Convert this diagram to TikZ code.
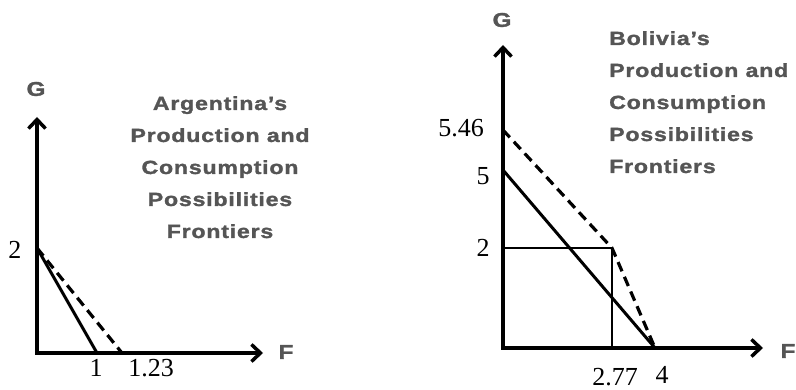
\documentclass[tikz,border=0pt]{standalone}
\usepackage{fontspec}
\setmainfont{Liberation Serif}
\newfontfamily\titlefont[FakeStretch=1.22,FakeBold=1.5,LetterSpace=4]{Liberation Sans Bold}
\usetikzlibrary{arrows.meta}
\definecolor{titlegray}{RGB}{85,85,85}
\begin{document}
\begin{tikzpicture}[x=1pt,y=-1pt,
  axis/.style={line width=4pt,-{Straight Barb[length=9pt,width=17pt,line width=3.5pt]}},
  frontier/.style={line width=3pt},
  trade/.style={line width=3.2pt,dash pattern=on 10pt off 6pt},
  thin/.style={line width=1.6pt},
  num/.style={inner sep=0pt,font=\fontsize{26}{26}\selectfont},
  axlabel/.style={inner sep=0pt,text=titlegray,font=\titlefont\fontsize{20}{20}\selectfont},
  title/.style={inner sep=0pt,text=titlegray,font=\titlefont\fontsize{19}{32}\selectfont}]
\useasboundingbox (0,0) rectangle (796,390);
% ---- Argentina ----
\coordinate (AO) at (37,353);
\coordinate (AOy) at (37,355);
\coordinate (AOx) at (35,353);
\coordinate (AYtip) at (37,117);
\coordinate (AXtip) at (263,353);
\coordinate (AG2) at (37,248);
\coordinate (AF1) at (97,353);
\coordinate (AF123) at (122,353);
\draw[axis] (AOy) -- (AYtip);
\draw[axis] (AOx) -- (AXtip);
\draw[frontier] (AG2) -- (AF1);
\draw[trade] (AG2) -- (AF123);
\node[axlabel] (AGl) at (36,89) {G};
\node[axlabel] (AFl) at (286,352) {F};
\node[num] (A2) at (15,250) {2};
\node[num] (A1) at (96,368) {1};
\node[num] (A123) at (151,368) {1.23};
\node[title,align=center,anchor=north] (Atitle) at (220,96)
  {Argentina’s\\Production and\\Consumption\\Possibilities\\Frontiers};
% ---- Bolivia ----
\coordinate (BO) at (503,348);
\coordinate (BOy) at (503,350);
\coordinate (BOx) at (501,348);
\coordinate (BYtip) at (503,45);
\coordinate (BXtip) at (763,348);
\coordinate (B546) at (503,130);
\coordinate (B5) at (503,170);
\coordinate (B2) at (503,248);
\coordinate (BC) at (612,248);
\coordinate (B277) at (612,348);
\coordinate (B4) at (655,348);
\draw[axis] (BOy) -- (BYtip);
\draw[axis] (BOx) -- (BXtip);
\draw[thin] (B2) -- (BC) -- (B277);
\draw[frontier] (B5) -- (B4);
\draw[trade] (B546) -- (BC) -- (B4);
\node[axlabel] (BGl) at (502,20) {G};
\node[axlabel] (BFl) at (788,351) {F};
\node[num] (L546) at (461,128) {5.46};
\node[num] (L5) at (483,176) {5};
\node[num] (L2) at (483,248) {2};
\node[num] (L277) at (615,377) {2.77};
\node[num] (L4) at (662,375) {4};
\node[title,align=left,anchor=north west] (Btitle) at (609,31)
  {Bolivia’s\\Production and\\Consumption\\Possibilities\\Frontiers};
\end{tikzpicture}
\end{document}
